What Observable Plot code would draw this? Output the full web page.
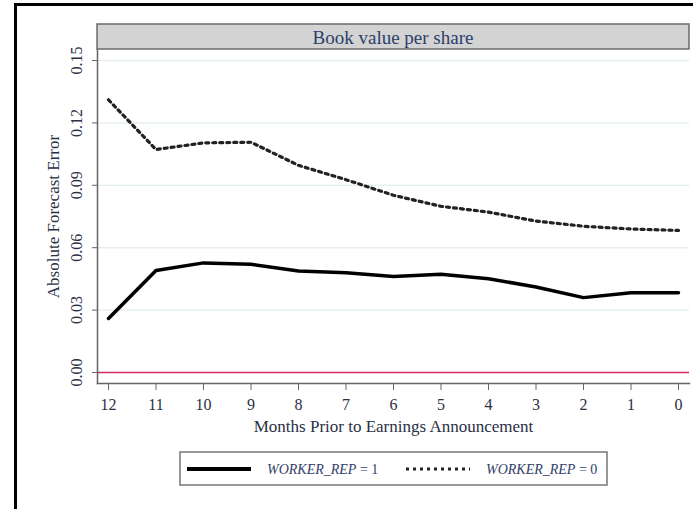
<!DOCTYPE html>
<html>
<head>
<meta charset="utf-8">
<script src="https://cdn.jsdelivr.net/npm/d3@7"></script>
<script src="https://cdn.jsdelivr.net/npm/@observablehq/plot@0.6"></script>
<style>
  html, body { margin: 0; padding: 0; background: #fff; }
  #wrap { position: relative; width: 693px; height: 509px; overflow: hidden; }
  #border { position: absolute; left: 14px; top: 3px; width: 800px; height: 700px; border-left: 3px solid #000; border-top: 3px solid #000; pointer-events: none; }
  svg { display: block; }
</style>
</head>
<body>
<div id="wrap"><div id="border"></div></div>
<script>
const months = [12, 11, 10, 9, 8, 7, 6, 5, 4, 3, 2, 1, 0];
const rep1 = [0.0260, 0.0490, 0.0527, 0.0520, 0.0488, 0.0480, 0.0462, 0.0472, 0.0451, 0.0411, 0.0360, 0.0383, 0.0383];
const rep0 = [0.1311, 0.1072, 0.1104, 0.1107, 0.0996, 0.0927, 0.0852, 0.0799, 0.0771, 0.0728, 0.0703, 0.0690, 0.0683];
const yTicks = [0, 0.03, 0.06, 0.09, 0.12, 0.15];
const gridTicks = [0.03, 0.06, 0.09, 0.12, 0.15];
const panelTitle = "Book value per share";
const xTitle = "Months Prior to Earnings Announcement";
const yTitle = "Absolute Forecast Error";
const seriesNames = ["WORKER_REP", "WORKER_REP"];
const seriesSuffix = [" = 1", " = 0"];

const d1 = months.map((m, i) => ({month: m, value: rep1[i]}));
const d0 = months.map((m, i) => ({month: m, value: rep0[i]}));

const W = 693, H = 509;
const mL = 97, mR = 4, mT = 49, mB = 126;
const font = "'Liberation Serif', 'Times New Roman', serif";
const axisColor = "#666";
const textColor = "#2a2f45";

const chart = Plot.plot({
  width: W,
  height: H,
  marginLeft: mL,
  marginRight: mR,
  marginTop: mT,
  marginBottom: mB,
  style: {fontFamily: font, fontSize: "16px", color: textColor, background: "transparent"},
  x: {domain: [12, 0], range: [108, 678]},
  y: {domain: [0, 0.15], range: [372, 60]},
  marks: [
    Plot.gridY(gridTicks, {stroke: "#e6efef", strokeOpacity: 1, strokeWidth: 1.5}),
    Plot.ruleY([0], {stroke: "#d42a5c", strokeWidth: 1.6}),
    Plot.frame({anchor: "left", stroke: axisColor, strokeWidth: 1.5}),
    Plot.frame({anchor: "bottom", stroke: axisColor, strokeWidth: 1.5}),
    Plot.axisY({
      ticks: yTicks, tickSize: 5, tickPadding: 11, tickFormat: d3.format(".2f"),
      tickRotate: -90, stroke: axisColor, fill: textColor, fontSize: 16,
      label: null
    }),
    Plot.axisY({
      ticks: [], label: yTitle, labelAnchor: "center", labelArrow: "none", labelOffset: 51,
      fill: textColor, fontSize: 17
    }),
    Plot.axisX({
      ticks: months, tickSize: 7, tickPadding: 8, tickFormat: d => String(d),
      stroke: axisColor, fill: textColor, fontSize: 16, label: null
    }),
    Plot.axisX({
      ticks: [], label: xTitle, labelAnchor: "center", labelArrow: "none", labelOffset: 48,
      fill: textColor, fontSize: 17
    }),
    Plot.line(d0, {x: "month", y: "value", stroke: "#222", strokeWidth: 3.2, strokeDasharray: "3,4"}),
    Plot.line(d1, {x: "month", y: "value", stroke: "#000", strokeWidth: 3.5})
  ]
});

document.getElementById("wrap").prepend(chart);

const svg = d3.select(chart);
// panel header strip
const hdr = svg.append("g");
hdr.append("rect").attr("x", mL).attr("y", 24).attr("width", W - mR - mL).attr("height", 25)
  .attr("fill", "#d3d3d3").attr("stroke", "#6b6b6b").attr("stroke-width", 1.5);
hdr.append("text").attr("x", (mL + W - mR) / 2).attr("y", 37).attr("dy", "0.35em")
  .attr("text-anchor", "middle").attr("font-family", font).attr("font-size", 19)
  .attr("fill", "#2b3f6b").text(panelTitle);

// legend
const lg = svg.append("g");
lg.append("rect").attr("x", 180).attr("y", 452).attr("width", 427).attr("height", 33)
  .attr("fill", "#fff").attr("stroke", "#777").attr("stroke-width", 1.5);
lg.append("line").attr("x1", 187).attr("x2", 251).attr("y1", 469).attr("y2", 469)
  .attr("stroke", "#000").attr("stroke-width", 4);
lg.append("line").attr("x1", 406).attr("x2", 470).attr("y1", 469).attr("y2", 469)
  .attr("stroke", "#222").attr("stroke-width", 3.2).attr("stroke-dasharray", "3,4");
[[267, 0], [486, 1]].forEach(([x, i]) => {
  const t = lg.append("text").attr("x", x).attr("y", 469).attr("dy", "0.35em")
    .attr("text-anchor", "start")
    .attr("font-family", font).attr("font-size", 14).attr("fill", "#34406a");
  t.append("tspan").attr("font-style", "italic").text(seriesNames[i]);
  t.append("tspan").text(seriesSuffix[i]);
});
</script>
</body>
</html>
